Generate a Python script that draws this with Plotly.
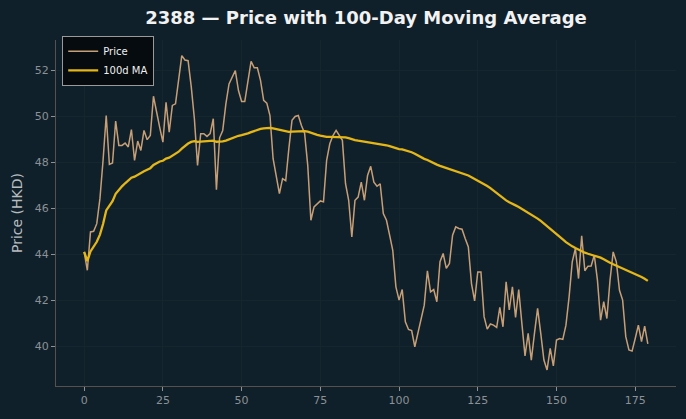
import plotly.graph_objects as go
import pandas as pd

# Day index and closing prices
days = list(range(180))
price = [
    44.10, 43.30, 44.97, 45.00, 45.33, 46.42, 48.09, 50.04, 47.91, 47.97,
    49.80, 48.74, 48.74, 48.84, 48.67, 49.43, 48.09, 48.93, 48.52, 49.39,
    48.99, 49.17, 50.88, 50.12, 49.51, 48.88, 50.62, 49.32, 50.48, 50.55,
    51.60, 52.65, 52.46, 52.43, 51.30, 49.90, 47.87, 49.25, 49.25, 49.13,
    49.25, 49.90, 46.81, 49.07, 49.39, 50.55, 51.42, 51.71, 52.00, 51.13,
    50.65, 50.65, 51.64, 52.40, 52.12, 52.12, 51.57, 50.70, 50.58, 50.04,
    48.16, 47.39, 46.64, 47.29, 47.20, 48.60, 49.83, 50.00, 50.04, 49.61,
    49.27, 47.87, 45.48, 46.06, 46.17, 46.32, 46.28, 48.09, 48.81, 49.17,
    49.39, 49.17, 48.96, 47.07, 46.35, 44.75, 46.35, 46.49, 47.14, 46.35,
    47.43, 47.83, 47.14, 46.96, 47.07, 45.77, 45.48, 44.83, 44.17, 42.58,
    42.00, 42.46, 41.06, 40.72, 40.67, 39.97, 40.62, 41.28, 41.78, 43.28,
    42.36, 42.46, 41.93, 43.67, 44.03, 43.38, 43.60, 44.83, 45.19, 45.12,
    45.09, 44.68, 44.32, 42.72, 41.97, 43.23, 43.23, 41.28, 40.74, 40.96,
    40.91, 40.81, 41.68, 40.84, 42.80, 41.57, 42.58, 41.25, 42.46, 40.99,
    39.57, 40.55, 39.39, 40.55, 41.64, 40.55, 39.39, 38.96, 39.90, 39.14,
    40.26, 40.33, 40.29, 40.91, 42.14, 43.67, 44.25, 42.94, 44.80, 43.28,
    43.48, 43.49, 43.96, 42.87, 41.13, 41.93, 41.20, 42.87, 44.10, 43.67,
    42.43, 42.00, 40.41, 39.83, 39.78, 40.33, 40.91, 40.19, 40.87, 40.09,
]
ma_window = 100
x_ticks = [0, 25, 50, 75, 100, 125, 150, 175]
y_ticks = [40, 42, 44, 46, 48, 50, 52]

ma = pd.Series(price).rolling(ma_window, min_periods=1).mean().tolist()

BG = "#10202a"
GRID = "#15262e"
SPINE = "#55524c"
TICKTXT = "#8b9196"

fig = go.Figure()
fig.add_trace(go.Scatter(x=days, y=price, mode="lines", name="Price",
                         line=dict(color="#c79f76", width=1.5)))
fig.add_trace(go.Scatter(x=days, y=ma, mode="lines", name="100d MA",
                         line=dict(color="#e5b716", width=2.3)))

fig.update_layout(
    width=686, height=419,
    margin=dict(l=56, r=10, t=40, b=33),
    paper_bgcolor=BG, plot_bgcolor=BG,
    font=dict(family="DejaVu Sans", color=TICKTXT, size=11),
    title=dict(text="<b>2388 — Price with 100-Day Moving Average</b>",
               x=0.5, xref="paper", xanchor="center", y=0.957, yanchor="middle",
               font=dict(size=18, color="#f2f2f2", family="DejaVu Sans")),
    showlegend=True,
    legend=dict(x=0.01, y=1.012, xanchor="left", yanchor="top",
                bgcolor="#050b0e", bordercolor="#9a9a9a", borderwidth=1,
                font=dict(size=10, color="#f0f0f0", family="DejaVu Sans"),
                itemwidth=30, tracegroupgap=0),
)
fig.update_xaxes(
    range=[-8.95, 187.95], tickmode="array", tickvals=x_ticks,
    showgrid=True, gridcolor=GRID, gridwidth=1, zeroline=False,
    showline=True, linecolor=SPINE, linewidth=1,
    ticks="outside", ticklen=4, tickcolor=TICKTXT, tickwidth=1,
    tickfont=dict(size=11, color=TICKTXT),
)
fig.update_yaxes(
    range=[38.26, 53.33], tickmode="array", tickvals=y_ticks,
    showgrid=True, gridcolor=GRID, gridwidth=1, zeroline=False,
    showline=True, linecolor=SPINE, linewidth=1,
    ticks="outside", ticklen=4, tickcolor=TICKTXT, tickwidth=1,
    tickfont=dict(size=11, color=TICKTXT),
    title=dict(text="Price (HKD)", font=dict(size=14, color="#b8bcbf"), standoff=8),
)

fig.write_html("out.html")
